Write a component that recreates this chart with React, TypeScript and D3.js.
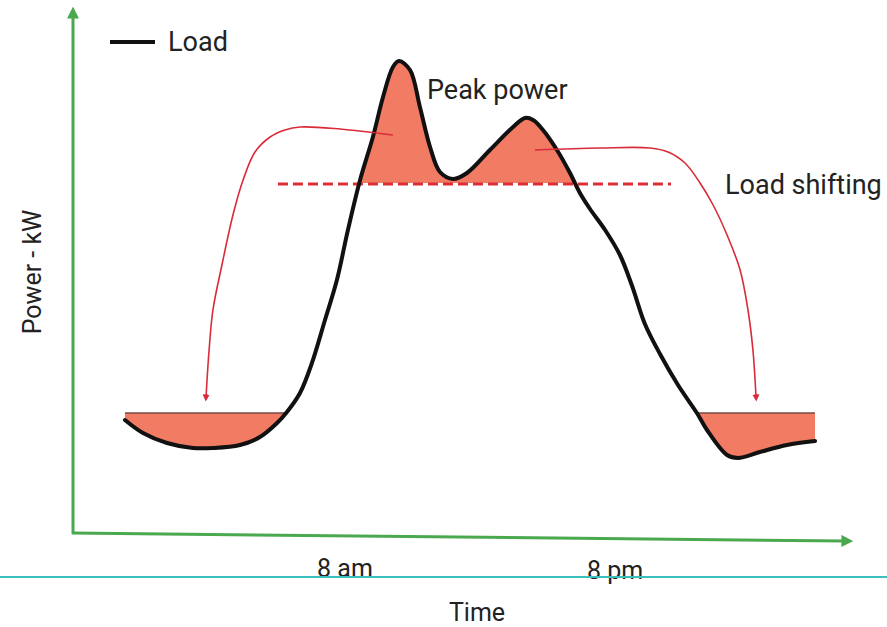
import React from "react";
import * as d3 from "d3";

// ---- data (time in hours, power in kW, conceptual units) ----
const loadTime = [-1.78, -0.98, 0.09, 1.24, 2.13, 3.33, 4.22, 4.98, 5.42, 6.0, 6.53, 7.11, 7.64, 8.13, 8.67, 9.24, 9.69, 10.13, 10.4, 10.89, 11.33, 11.78, 12.22, 12.8, 13.42, 14.44, 15.47, 16.0, 16.36, 16.8, 17.42, 18.0, 18.44, 18.89, 19.56, 20.22, 20.76, 21.33, 22.0, 22.8, 23.64, 24.09, 24.98, 25.47, 26.44, 27.64, 28.89];
const loadPower = [22.6, 20.0, 18.0, 17.0, 17.0, 17.6, 19.2, 22.0, 24.2, 28.0, 34.0, 42.6, 50.6, 60.6, 70.6, 79.2, 87.2, 93.2, 94.4, 92.6, 85.2, 77.2, 72.2, 70.8, 72.0, 76.6, 81.2, 83.0, 82.6, 80.6, 76.6, 72.0, 68.0, 64.8, 60.6, 55.6, 49.4, 41.8, 35.8, 29.6, 24.0, 20.6, 15.6, 15.0, 16.2, 17.6, 18.4];

const peakLevel = 70; // kW: peak shaving threshold
const dashedRange = [5.02, 22.49]; // hours
const valleyLevel = 24; // kW: fill level of off-peak valleys
const valleyLeft = [-1.78, 5.42];
const valleyRight = [23.64, 28.89];

const arrowLeftTime = [10.13, 7.78, 6.0, 5.33, 4.67, 4.0, 3.47, 3.02, 2.53, 2.13, 1.96, 1.82];
const arrowLeftPower = [79.6, 80.8, 81.2, 80.6, 79.2, 76.2, 70.6, 63.6, 53.6, 44.6, 36.6, 27.0];
const arrowRightTime = [16.44, 19.33, 21.56, 22.36, 23.11, 23.78, 24.36, 24.98, 25.56, 25.91, 26.13, 26.27];
const arrowRightPower = [76.6, 77.0, 77.0, 76.2, 74.0, 70.0, 65.6, 59.6, 52.6, 44.6, 36.6, 27.0];

const tickHours = [8, 20];
const tickLabels = ["8 am", "8 pm"];

const W = 887;
const H = 627;

export default function App() {
  const x = d3.scaleLinear().domain([0, 24]).range([165, 705]);
  const y = d3.scaleLinear().domain([0, 100]).range([533, 33]);

  const load = loadTime.map((t, i) => [t, loadPower[i]] as [number, number]);
  const arrL = arrowLeftTime.map((t, i) => [t, arrowLeftPower[i]] as [number, number]);
  const arrR = arrowRightTime.map((t, i) => [t, arrowRightPower[i]] as [number, number]);

  const line = d3
    .line<[number, number]>()
    .x((d) => x(d[0]))
    .y((d) => y(d[1]))
    .curve(d3.curveCatmullRom.alpha(0.5));

  const peakArea = d3
    .area<[number, number]>()
    .x((d) => x(d[0]))
    .y0(y(peakLevel))
    .y1((d) => y(d[1]))
    .curve(d3.curveCatmullRom.alpha(0.5));
  const valleyArea = d3
    .area<[number, number]>()
    .x((d) => x(d[0]))
    .y0(y(valleyLevel))
    .y1((d) => y(d[1]))
    .curve(d3.curveCatmullRom.alpha(0.5));

  const green = "#4aa84e";
  const fillC = "#f27b63";
  const red = "#d92b3a";
  const font = "Roboto, 'Open Sans', sans-serif";
  const fs = 27;

  return (
    <svg width={W} height={H} style={{ position: "absolute", left: 0, top: 0, background: "#fff" }} fontFamily={font}>
      <defs>
        <clipPath id="peakClip">
          <rect x={0} y={0} width={W} height={y(peakLevel)} />
        </clipPath>
        <clipPath id="valleyClip">
          <rect x={0} y={y(valleyLevel)} width={W} height={H - y(valleyLevel)} />
        </clipPath>
        <marker id="redHead" viewBox="0 0 10 10" refX={5} refY={5} markerWidth={4.5} markerHeight={4.5} orient="auto" markerUnits="strokeWidth">
          <path d="M0,0 L10,5 L0,10 z" fill={red} />
        </marker>
        <marker id="greenHead" viewBox="0 0 10 10" refX={3} refY={5} markerWidth={4} markerHeight={4} orient="auto" markerUnits="strokeWidth">
          <path d="M0,0 L10,5 L0,10 z" fill={green} />
        </marker>
      </defs>

      {/* fills */}
      <path d={peakArea(load) || ""} fill={fillC} clipPath="url(#peakClip)" />
      <path d={valleyArea(load) || ""} fill={fillC} clipPath="url(#valleyClip)" />
      {[valleyLeft, valleyRight].map((r, i) => (
        <line key={i} x1={x(r[0])} x2={x(r[1])} y1={y(valleyLevel)} y2={y(valleyLevel)} stroke="#7a4a42" strokeWidth={1.5} />
      ))}

      {/* dashed threshold */}
      <line x1={x(dashedRange[0])} x2={x(dashedRange[1])} y1={y(peakLevel) + 1} y2={y(peakLevel) + 1} stroke="#dc2f35" strokeWidth={3} strokeDasharray="10 5" />

      {/* load curve */}
      <path d={line(load) || ""} fill="none" stroke="#111" strokeWidth={4} strokeLinejoin="round" strokeLinecap="round" />

      {/* shifting arrows */}
      <path d={line(arrL) || ""} fill="none" stroke={red} strokeWidth={1.6} markerEnd="url(#redHead)" />
      <path d={line(arrR) || ""} fill="none" stroke={red} strokeWidth={1.6} markerEnd="url(#redHead)" />

      {/* axes */}
      <line x1={73} y1={534} x2={73} y2={15} stroke={green} strokeWidth={3} markerEnd="url(#greenHead)" />
      <line x1={72} y1={533} x2={845} y2={541} stroke={green} strokeWidth={3} markerEnd="url(#greenHead)" />

      {/* legend */}
      <line x1={110} x2={155} y1={42} y2={42} stroke="#111" strokeWidth={4} />
      <text x={168} y={51} fontSize={fs} fill="#222">Load</text>

      {/* annotations */}
      <text x={427} y={99} fontSize={fs} fill="#222">Peak power</text>
      <text x={725} y={194} fontSize={fs} fill="#222">Load shifting</text>

      {/* tick labels */}
      {tickHours.map((h, i) => (
        <text key={h} x={x(h)} y={577 + i * 2} fontSize={25} textAnchor="middle" fill="#222">{tickLabels[i]}</text>
      ))}
      <line x1={0} x2={W} y1={577} y2={577} stroke="#3bbfbf" strokeWidth={2} />
      <text x={477} y={621} fontSize={25} textAnchor="middle" fill="#222">Time</text>
      <text transform="translate(41,272) rotate(-90)" fontSize={25} textAnchor="middle" fill="#222">Power - kW</text>
    </svg>
  );
}
